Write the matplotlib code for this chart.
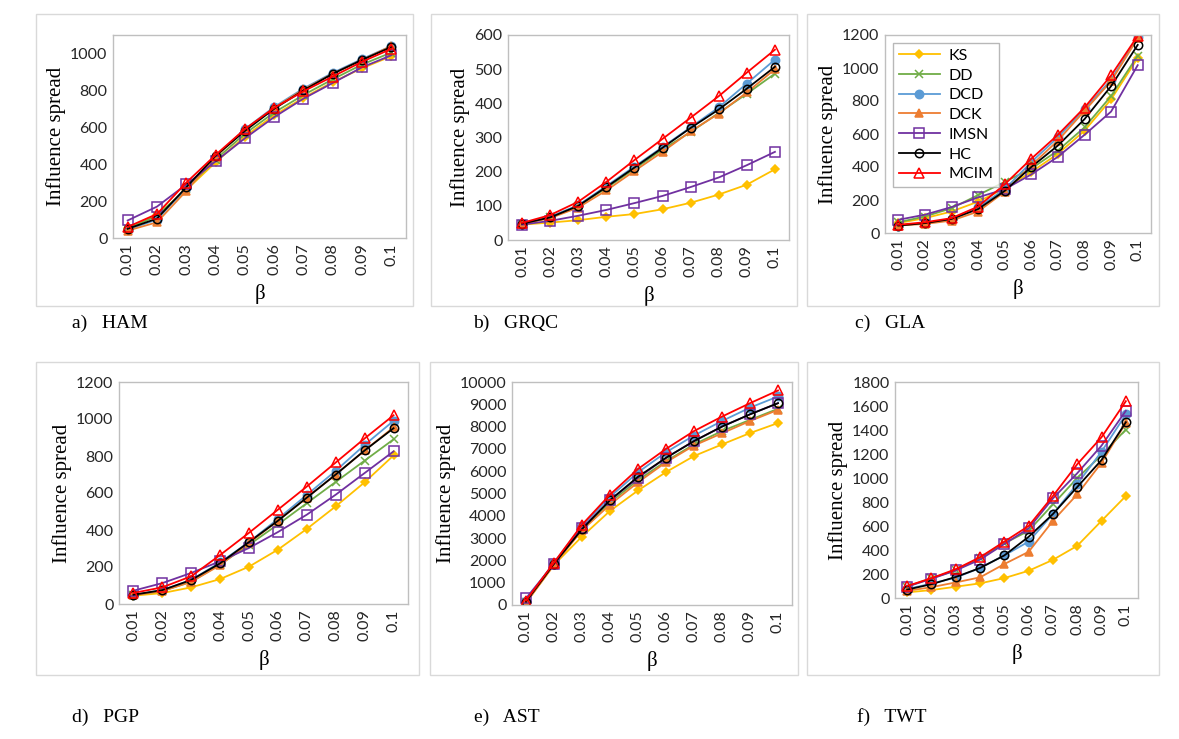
import matplotlib.pyplot as plt
from matplotlib.patches import Rectangle

W, H = 1179, 739

BETA = ["0.01", "0.02", "0.03", "0.04", "0.05", "0.06", "0.07", "0.08", "0.09", "0.1"]
METHODS = ["KS", "DD", "DCD", "DCK", "IMSN", "HC", "MCIM"]

ham = {
    "KS":   [55, 125, 260, 410, 550, 665, 760, 845, 920, 985],
    "DD":   [50, 120, 265, 425, 565, 680, 775, 860, 940, 1005],
    "DCD":  [45, 100, 270, 440, 590, 710, 810, 895, 970, 1040],
    "DCK":  [40, 85, 255, 440, 585, 705, 805, 890, 965, 1040],
    "IMSN": [95, 170, 290, 415, 540, 655, 755, 840, 925, 990],
    "HC":   [50, 105, 275, 445, 580, 700, 800, 890, 965, 1035],
    "MCIM": [60, 130, 300, 450, 590, 705, 795, 875, 955, 1025],
}
grqc = {
    "KS":   [45, 51, 58, 68, 76, 90, 109, 133, 162, 207],
    "DD":   [47, 66, 100, 152, 208, 265, 316, 372, 428, 487],
    "DCD":  [48, 68, 102, 158, 215, 272, 330, 388, 458, 528],
    "DCK":  [47, 64, 95, 145, 202, 258, 318, 370, 432, 500],
    "IMSN": [45, 56, 71, 88, 108, 129, 155, 183, 219, 258],
    "HC":   [48, 66, 100, 155, 212, 270, 328, 382, 443, 507],
    "MCIM": [50, 73, 112, 170, 234, 296, 358, 421, 490, 557],
}
gla = {
    "KS":   [60, 90, 130, 190, 270, 370, 480, 620, 810, 1060],
    "DD":   [65, 100, 150, 230, 310, 390, 500, 640, 830, 1075],
    "DCD":  [45, 60, 85, 155, 265, 430, 580, 750, 930, 1190],
    "DCK":  [45, 55, 75, 130, 250, 410, 560, 740, 920, 1180],
    "IMSN": [80, 111, 157, 216, 265, 355, 462, 595, 736, 1017],
    "HC":   [45, 60, 85, 145, 255, 400, 530, 690, 890, 1140],
    "MCIM": [50, 65, 90, 160, 295, 450, 595, 760, 955, 1195],
}
pgp = {
    "KS":   [45, 59, 90, 135, 202, 294, 406, 528, 658, 803],
    "DD":   [50, 70, 120, 215, 320, 430, 545, 660, 775, 890],
    "DCD":  [50, 75, 130, 225, 335, 460, 590, 720, 860, 990],
    "DCK":  [48, 70, 120, 210, 330, 450, 575, 700, 830, 955],
    "IMSN": [72, 113, 168, 231, 303, 389, 483, 591, 708, 825],
    "HC":   [50, 75, 130, 220, 335, 450, 575, 700, 830, 950],
    "MCIM": [60, 90, 150, 265, 385, 510, 635, 765, 895, 1020],
}
ast = {
    "KS":   [100, 1800, 3070, 4220, 5135, 5960, 6680, 7200, 7710, 8160],
    "DD":   [120, 1850, 3400, 4600, 5600, 6450, 7200, 7800, 8300, 8800],
    "DCD":  [200, 1900, 3550, 4850, 5950, 6850, 7600, 8250, 8850, 9350],
    "DCK":  [100, 1800, 3350, 4500, 5500, 6400, 7150, 7700, 8250, 8750],
    "IMSN": [300, 1850, 3450, 4700, 5700, 6600, 7350, 8000, 8550, 9050],
    "HC":   [150, 1850, 3400, 4700, 5750, 6600, 7350, 8000, 8550, 9050],
    "MCIM": [200, 1900, 3600, 4950, 6100, 7000, 7800, 8450, 9050, 9620],
}
twt = {
    "KS":   [47, 66, 94, 122, 166, 227, 318, 435, 643, 850],
    "DD":   [95, 165, 230, 335, 455, 560, 780, 1000, 1190, 1404],
    "DCD":  [75, 120, 170, 250, 355, 470, 700, 950, 1220, 1530],
    "DCK":  [60, 90, 130, 172, 283, 385, 643, 864, 1127, 1460],
    "IMSN": [95, 160, 230, 320, 450, 580, 830, 1040, 1270, 1560],
    "HC":   [70, 115, 175, 250, 355, 510, 700, 925, 1150, 1465],
    "MCIM": [100, 165, 240, 340, 470, 600, 850, 1115, 1340, 1640],
}

STYLE = {
    "KS":   dict(color="#FFC000", marker="D", mfc="#FFC000", ms=4.5),
    "DD":   dict(color="#70AD47", marker="x", mfc="#70AD47", ms=6),
    "DCD":  dict(color="#5B9BD5", marker="o", mfc="#5B9BD5", ms=6),
    "DCK":  dict(color="#ED7D31", marker="^", mfc="#ED7D31", ms=6),
    "IMSN": dict(color="#7030A0", marker="s", mfc="none", ms=6.5),
    "HC":   dict(color="#000000", marker="o", mfc="none", ms=6),
    "MCIM": dict(color="#FF0000", marker="^", mfc="none", ms=7),
}

# (caption, data, ylim top, last tick, step, plot box px, outer box px, caption px)
PANELS = [
    ("a)   HAM", ham, 1100, 1000, 200, (113, 35, 406, 238), (36, 14, 413, 306), (72, 323)),
    ("b)   GRQC", grqc, 600, 600, 100, (508, 35, 789, 240), (431, 14, 797, 306), (473, 323)),
    ("c)   GLA", gla, 1200, 1200, 200, (885, 35, 1151, 233), (807, 14, 1159, 306), (855, 323)),
    ("d)   PGP", pgp, 1200, 1200, 200, (119, 382, 408, 604), (36, 362, 419, 675), (72, 717)),
    ("e)   AST", ast, 10000, 10000, 1000, (512, 382, 792, 605), (430, 362, 798, 675), (474, 717)),
    ("f)   TWT", twt, 1800, 1800, 200, (895, 382, 1138, 598), (807, 362, 1159, 675), (857, 717)),
]

SERIF = "Liberation Serif"
TICKFONT = "Lato"


def px_box(l, t, r, b):
    return [l / W, 1 - b / H, (r - l) / W, (b - t) / H]


def main():
    fig = plt.figure(figsize=(W / 100, H / 100), dpi=100)
    fig.patch.set_facecolor("white")

    for cap, data, ytop, ylast, ystep, pbox, obox, cpos in PANELS:
        ol, ot, orr, ob = obox
        fig.patches.append(Rectangle((ol / W, 1 - ob / H), (orr - ol) / W, (ob - ot) / H,
                                     transform=fig.transFigure, fill=False,
                                     edgecolor="#d9d9d9", linewidth=1.0))
        ax = fig.add_axes(px_box(*pbox))
        x = range(len(BETA))
        for m in METHODS:
            st = STYLE[m]
            ax.plot(x, data[m], color=st["color"], marker=st["marker"], mfc=st["mfc"],
                    mec=st["color"], ms=st["ms"], lw=1.3, mew=1.1, label=m)
        ax.set_xlim(-0.5, len(BETA) - 0.5)
        ax.set_ylim(0, ytop)
        ax.set_yticks(range(0, ylast + 1, ystep))
        ax.set_xticks(list(x))
        ax.set_xticklabels(BETA, rotation=90, fontfamily=TICKFONT, fontsize=11.5)
        for lab in ax.get_yticklabels():
            lab.set_fontfamily(TICKFONT)
            lab.set_fontsize(11.5)
        ax.tick_params(length=0, pad=4, colors="#262626")
        for sp in ax.spines.values():
            sp.set_color("#bfbfbf")
            sp.set_linewidth(1.0)
        ax.set_ylabel("Influence spread", fontfamily=SERIF, fontsize=15, labelpad=3)
        ax.set_xlabel("β", fontfamily=SERIF, fontsize=15, labelpad=6)
        fig.text(cpos[0] / W, 1 - cpos[1] / H, cap, fontfamily=SERIF, fontsize=14,
                 ha="left", va="center")
        if data is gla:
            ax.legend(loc="upper left", bbox_to_anchor=(0.0, 1.0), frameon=True,
                      fancybox=False, edgecolor="#a6a6a6", prop={"family": TICKFONT, "size": 11.5},
                      handlelength=2.6, labelspacing=0.35, borderpad=0.35,
                      handletextpad=0.5)

    fig.savefig("out.png", dpi=100)
    plt.close(fig)


if __name__ == "__main__":
    main()
